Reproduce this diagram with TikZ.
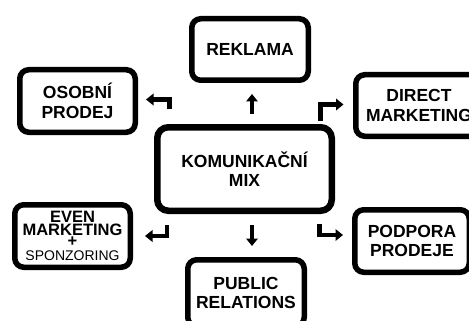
\documentclass[tikz,border=0pt]{standalone}
\usepackage{fontspec}
\setmainfont{Liberation Sans}
\usetikzlibrary{arrows.meta}
\tikzset{
  box/.style={draw=black, line width=5.5pt, rounded corners=9pt, inner sep=0pt,
    align=center, font=\bfseries\fontsize{17.5}{19.5}\selectfont},
  arr/.style={line width=4.3pt, -{Triangle[width=11.5pt,length=7.5pt]}}
}
\begin{document}
\begin{tikzpicture}[x=1pt,y=-1pt]
\clip (0,0) rectangle (469,321);
\fill[white] (0,0) rectangle (469,321);
% boxes (size = outer extent - line width)
\node[box, minimum width=116.5pt, minimum height=61.5pt] (reklama) at (250,49.5) {REKLAMA};
\node[box, minimum width=115.5pt, minimum height=62.5pt] (osobni) at (77.5,101) {OSOBNÍ\\PRODEJ};
\node[box, minimum width=126.5pt, minimum height=61.5pt] (direct) at (419,105.5) {DIRECT\\MARKETING};
\node[box, line width=6.5pt, rounded corners=11pt, minimum width=174.5pt, minimum height=83.5pt] (kmix) at (244.5,169) {KOMUNIKAČNÍ\\MIX};
\node[box, minimum width=115.5pt, minimum height=62.5pt, font=\bfseries\fontsize{16.5}{13}\selectfont] (even) at (72.5,236)
  {EVEN\\MARKETING\\[-2pt]+\\[1.5pt]{\mdseries\fontsize{14}{13}\selectfont SPONZORING}};
\node[box, minimum width=114.5pt, minimum height=62.5pt] (podpora) at (412,241) {PODPORA\\PRODEJE};
\node[box, minimum width=116.5pt, minimum height=66.5pt] (public) at (246,293) {PUBLIC\\RELATIONS};
% arrow end points
\coordinate (upS) at (252,114.5);
\coordinate (upE) at (252,94);
\coordinate (osS) at (169.5,109.5);
\coordinate (osE) at (146,99.5);
\coordinate (dmS) at (320.5,121);
\coordinate (dmE) at (343.5,104.5);
\coordinate (evS) at (167,225);
\coordinate (evE) at (145,236);
\coordinate (ppS) at (319.5,224);
\coordinate (ppE) at (343,235);
\coordinate (dnS) at (252,225);
\coordinate (dnE) at (252,246);
% arrows
\draw[arr] (upS) -- (upE);
\draw[arr] (osS) |- (osE);
\draw[arr] (dmS) |- (dmE);
\draw[arr] (evS) |- (evE);
\draw[arr] (ppS) |- (ppE);
\draw[arr] (dnS) -- (dnE);
\end{tikzpicture}
\end{document}
